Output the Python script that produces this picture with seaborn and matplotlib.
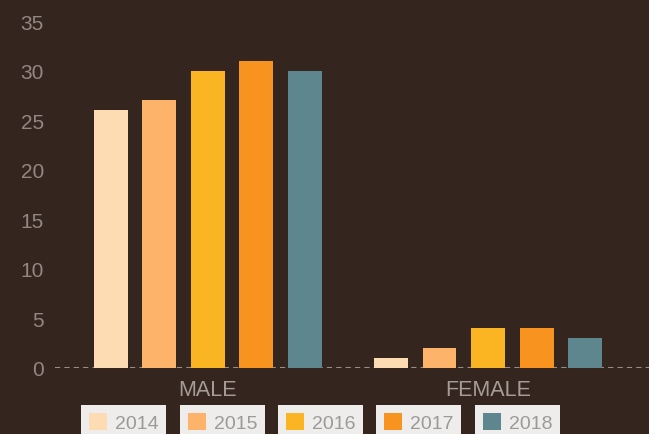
import matplotlib
matplotlib.use("Agg")
import matplotlib.pyplot as plt
from matplotlib.patches import Patch
import seaborn as sns
import pandas as pd

categories = ["MALE", "FEMALE"]
years = ["2014", "2015", "2016", "2017", "2018"]
male_values = [26, 27, 30, 31, 30]
female_values = [1, 2, 4, 4, 3]
colors = ["#fddcb4", "#fdb46a", "#fbb523", "#f7931e", "#5e868e"]
yticks = [0, 5, 10, 15, 20, 25, 30, 35]

rows = []
for y, v in zip(years, male_values):
    rows.append({"sex": "MALE", "year": y, "value": v})
for y, v in zip(years, female_values):
    rows.append({"sex": "FEMALE", "year": y, "value": v})
df = pd.DataFrame(rows)

bg = "#35251f"
sns.set_theme(style="white")
plt.rcParams["font.family"] = ["Liberation Sans", "DejaVu Sans"]

fig = plt.figure(figsize=(6.49, 4.35), dpi=100, facecolor=bg)
ax = fig.add_axes([55 / 649, 66 / 435, 1 - 55 / 649, 1 - 66 / 435])
ax.set_facecolor(bg)

sns.barplot(data=df, x="sex", y="value", hue="year", order=categories,
            hue_order=years, palette=colors, saturation=1, width=0.865,
            gap=0.3, legend=False, ax=ax, zorder=2, errorbar=None,
            edgecolor="none", linewidth=0)

ax.axhline(0, color="#978d88", lw=1.5, ls=(0, (2.5, 2)), zorder=1)

ax.set_xlim(-0.544, 1.574)
ax.set_ylim(0, 37.22)
ax.set_yticks(yticks)
ax.set_yticklabels([str(t) for t in yticks])
ax.tick_params(axis="y", length=0, pad=8, labelsize=15, labelcolor="#928782")
ax.tick_params(axis="x", length=0, pad=8, labelsize=15.5, labelcolor="#a59c97")
ax.set_xlabel("")
ax.set_ylabel("")
for s in ax.spines.values():
    s.set_visible(False)
ax.grid(False)

box_lefts = [81, 180, 278, 376, 475]
for x0, yr, c in zip(box_lefts, years, colors):
    leg = fig.legend(handles=[Patch(facecolor=c, edgecolor="none")], labels=[yr],
                     loc="upper left", bbox_to_anchor=(x0 / 649, 1 - 406 / 435),
                     frameon=True, fancybox=False, framealpha=1,
                     facecolor="#efedeb", edgecolor="none",
                     fontsize=14, handlelength=0.95, handleheight=1.0,
                     handletextpad=0.4, borderpad=0.4, borderaxespad=0)
    for t in leg.get_texts():
        t.set_color("#9a9a9a")
    leg.get_frame().set_linewidth(0)

fig.savefig("out.png", dpi=100, facecolor=bg)
